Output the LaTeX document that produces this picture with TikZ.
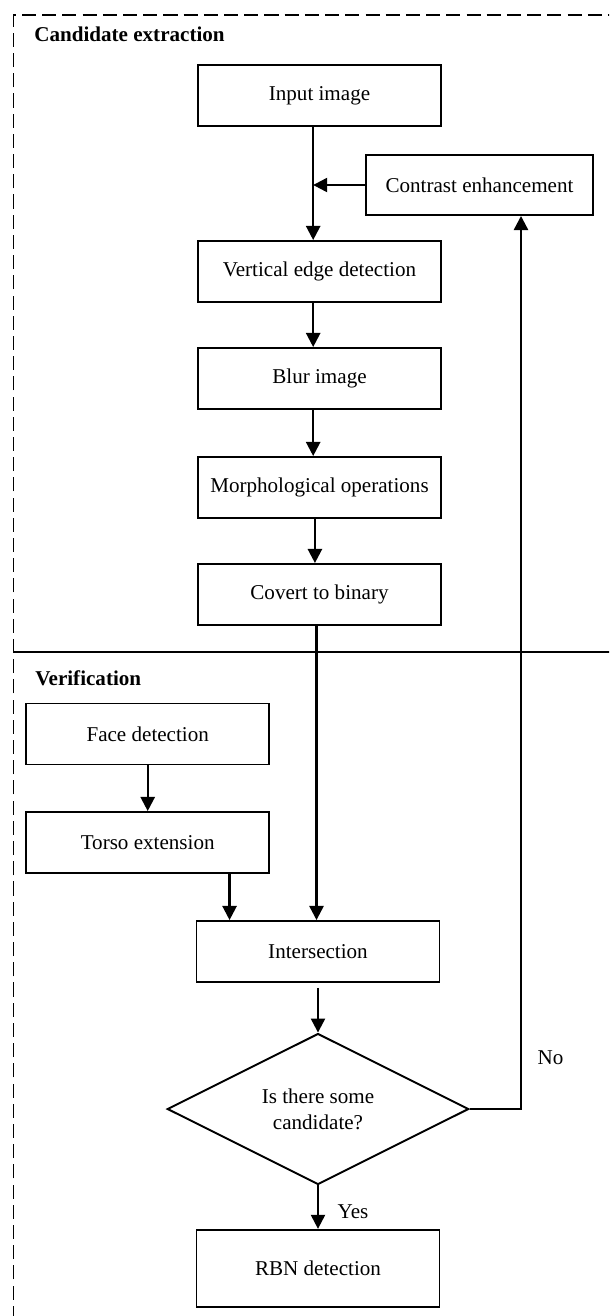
\documentclass[tikz,border=0pt]{standalone}
\usepackage{fontspec}
\setmainfont{Liberation Serif}
\usepackage{tikz}
\usetikzlibrary{shapes.geometric, arrows.meta, positioning, calc}
\tikzset{
  box/.style={
    draw, line width=1.1pt, rectangle,
    minimum width=4.86cm, minimum height=1.22cm,
    font=\fontsize{12}{14.8}\selectfont, align=center, inner sep=2pt
  },
  decision/.style={
    draw, line width=1.1pt, diamond, aspect=2,
    minimum width=6.03cm, minimum height=3.02cm, inner sep=0pt,
    font=\fontsize{12}{14.8}\selectfont, align=center
  },
  arr/.style={-{Triangle[length=8pt,width=8pt]}, line width=1.3pt},
  region/.style={line width=1pt, dash pattern=on 8pt off 3.5pt},
  ttl/.style={font=\fontsize{12}{14.8}\selectfont\bfseries, anchor=west, inner sep=0pt},
  lbl/.style={font=\fontsize{12}{14.8}\selectfont, inner sep=0pt},
}
\begin{document}
\begin{tikzpicture}[x=0.02cm, y=-0.02cm]
  \useasboundingbox (0,0) rectangle (609,1316);
  \clip (0,0) rectangle (609,1316);

  % Regions
  \draw[region] (13.5,1340) -- (13.5,15) -- (640,15);
  \draw[region] (13.5,652) -- (640,652);
  \draw[region, dash phase=5pt] (13.5,652) -- (640,652);
  \node[ttl] (tcand) at (34,34) {Candidate extraction};
  \node[ttl] (tver) at (35,678) {Verification};

  % Candidate extraction
  \node[box] (inp) at (319.5,95.5) {Input image};
  \node[box, minimum width=4.54cm, minimum height=1.2cm] (ce) at (479.5,185)
    {Contrast enhancement};
  \node[box] (ved) at (319.5,271.5) {Vertical edge detection};
  \node[box] (blur) at (319.5,378.5) {Blur image};
  \node[box] (morph) at (319.5,487.5) {Morphological operations};
  \node[box] (bin) at (319.5,594.5) {Covert to binary};

  % Verification
  \node[box] (face) at (147.7,734) {Face detection};
  \node[box] (torso) at (147.7,842.5) {Torso extension};
  \node[box] (inter) at (318,951.5) {Intersection};
  \node[decision] (dec) at (318,1109) {Is there some\\candidate?};
  \node[box, minimum height=1.54cm] (rbn) at (318,1268.3) {RBN detection};

  % Helper points
  \coordinate (jin) at ([xshift=-3.6pt]inp.south);
  \coordinate (jmo) at ([xshift=-2.6pt]morph.south);
  \coordinate (jbi) at ([xshift=-1.7pt]bin.south);
  \coordinate (tin) at ($(inter.north west)+(34,0)$);
  \coordinate (back) at (521,1109);

  \draw[arr] (jin) -- (jin |- ved.north);
  \draw[arr] (ce.west) -- (ce.west -| jin);
  \draw[arr] (jin |- ved.south) -- (jin |- blur.north);
  \draw[arr] (jin |- blur.south) -- (jin |- morph.north);
  \draw[arr] (jmo) -- (jmo |- bin.north);
  \draw[arr] (jbi) -- (jbi |- inter.north);
  \draw[arr] (face) -- (torso);
  \draw[arr] (tin |- torso.south) -- (tin);
  \draw[arr, shorten <=2.8pt] (inter) -- (dec);
  \draw[arr] (dec) -- node[lbl, pos=0.6, right=0.37cm] {Yes} (rbn);
  \draw[arr] (dec.east) -- (back)
    -- node[lbl, pos=0.058, right=0.31cm] {No} (back |- ce.south);
\end{tikzpicture}
\end{document}
